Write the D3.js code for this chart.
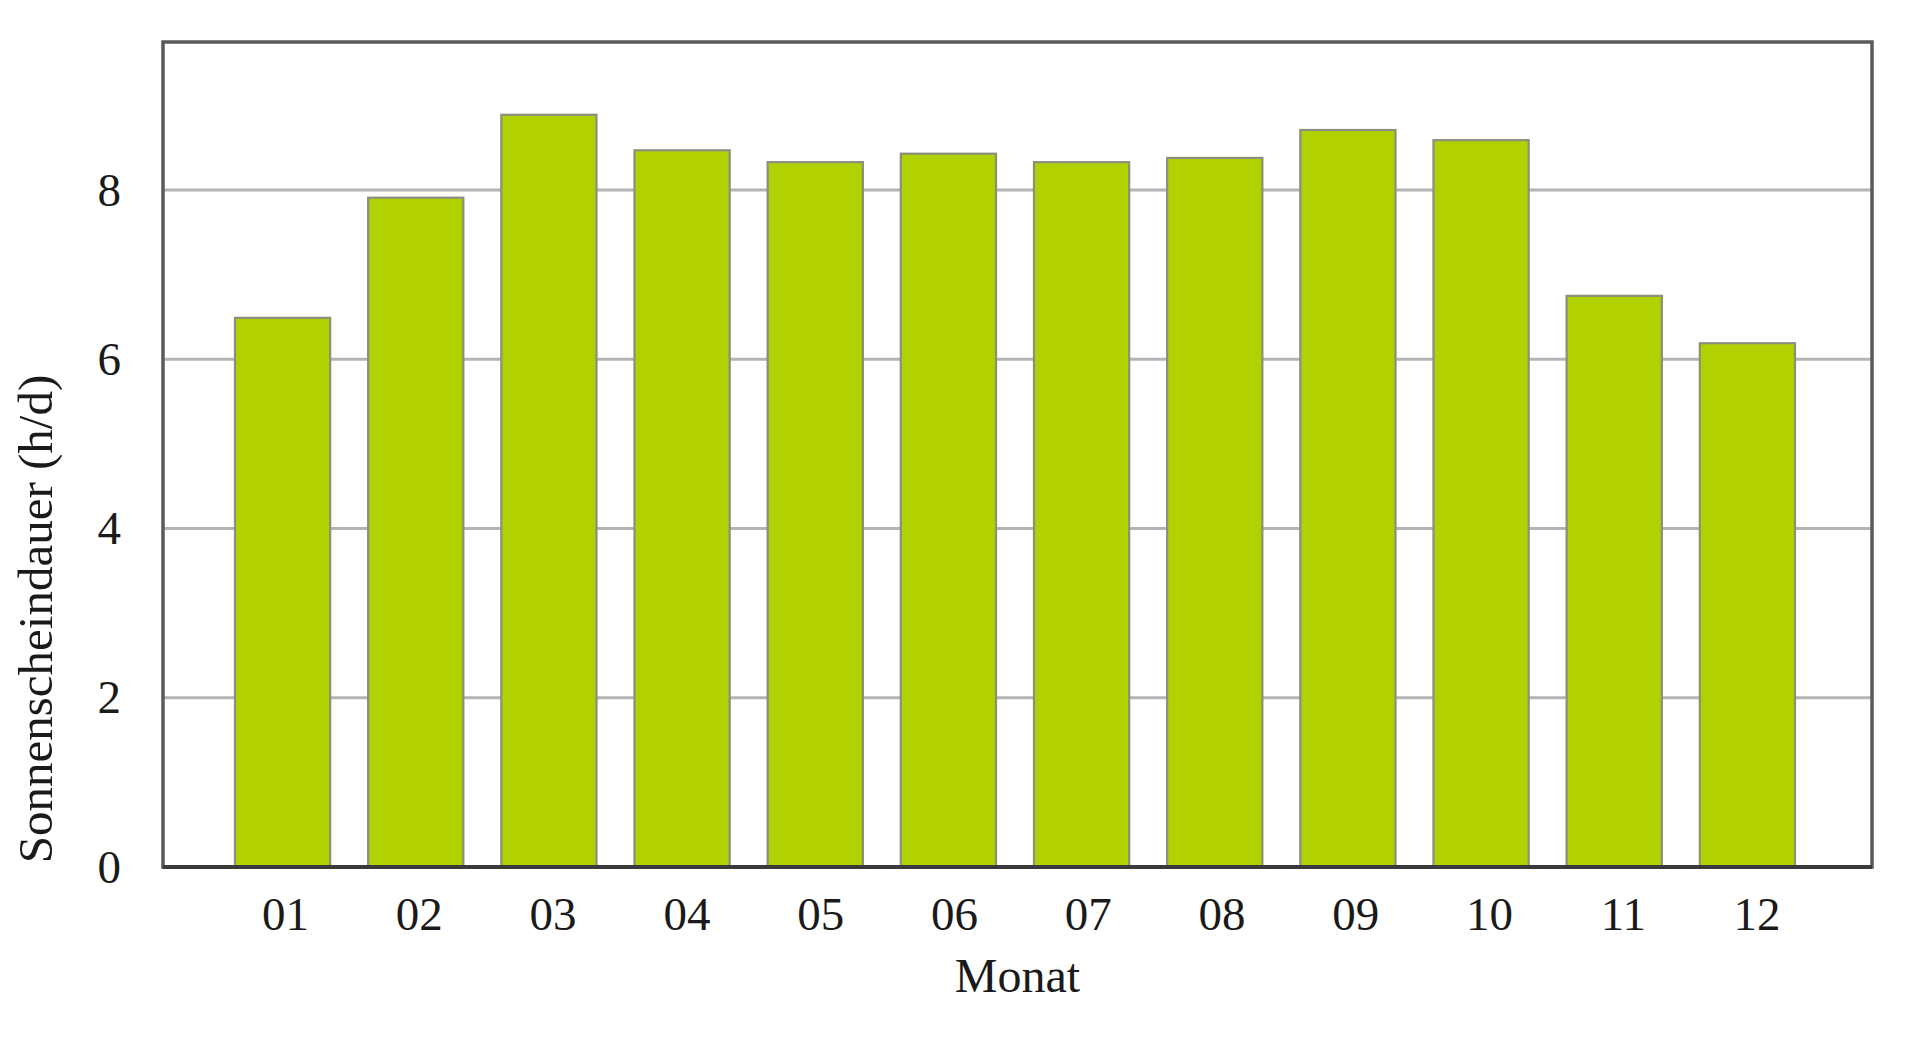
<!DOCTYPE html>
<html><head><meta charset="utf-8">
<script src="https://cdn.jsdelivr.net/npm/d3@7"></script>
<style>html,body{margin:0;padding:0;background:#fff;}svg{display:block;}</style>
</head><body>
<script>
const months = ["01","02","03","04","05","06","07","08","09","10","11","12"];
const sunHours = [6.49, 7.91, 8.89, 8.47, 8.33, 8.43, 8.33, 8.38, 8.71, 8.59, 6.75, 6.19];
const yTicks = [0, 2, 4, 6, 8];
const xTitle = "Monat";
const yTitle = "Sonnenscheindauer (h/d)";

const W = 1920, H = 1043;
const plot = {left: 163, right: 1872, top: 42, bottom: 867};
const svg = d3.select("body").append("svg").attr("width", W).attr("height", H);
const font = "'Liberation Serif', 'Times New Roman', serif";

const x = d3.scaleBand().domain(months).range([216, 1814]).paddingInner(0.285).paddingOuter(0.1425);
const y = d3.scaleLinear().domain([0, 9.75]).range([plot.bottom, plot.top]);

// gridlines
svg.append("g").selectAll("line").data(yTicks.filter(d => d > 0)).join("line")
  .attr("x1", plot.left).attr("x2", plot.right)
  .attr("y1", d => y(d)).attr("y2", d => y(d))
  .attr("stroke", "#b4b4b4").attr("stroke-width", 3);

// bars
svg.append("g").selectAll("rect").data(months).join("rect")
  .attr("x", d => x(d)).attr("width", x.bandwidth())
  .attr("y", (d, i) => y(sunHours[i])).attr("height", (d, i) => y(0) - y(sunHours[i]))
  .attr("fill", "#b2d100").attr("stroke", "#8b8f7e").attr("stroke-width", 2.2);

// frame
svg.append("rect").attr("x", plot.left).attr("y", plot.top)
  .attr("width", plot.right - plot.left).attr("height", plot.bottom - plot.top)
  .attr("fill", "none").attr("stroke", "#5a5a5a").attr("stroke-width", 3.5);
svg.append("line").attr("x1", plot.left).attr("x2", plot.right)
  .attr("y1", plot.bottom).attr("y2", plot.bottom)
  .attr("stroke", "#3a3a3a").attr("stroke-width", 4);

// y axis labels
const yAxis = d3.axisLeft(y).tickValues(yTicks).tickSize(0).tickPadding(42).tickFormat(d3.format("d"));
const gy = svg.append("g").attr("transform", `translate(${plot.left},0)`).call(yAxis);
gy.select(".domain").remove();
gy.selectAll("text").attr("font-family", font).attr("font-size", 47).attr("fill", "#1a1a1a");

// x axis labels
const xAxis = d3.axisBottom(x).tickSize(0).tickPadding(30);
const gx = svg.append("g").attr("transform", `translate(0,${plot.bottom})`).call(xAxis);
gx.select(".domain").remove();
gx.selectAll("text").attr("font-family", font).attr("font-size", 47).attr("fill", "#1a1a1a")
  .attr("dx", (d, i) => 3 + i * 0.6);

// titles
svg.append("text").attr("x", (plot.left + plot.right) / 2).attr("y", 992)
  .attr("text-anchor", "middle").attr("font-family", font).attr("font-size", 48).attr("fill", "#1a1a1a")
  .text(xTitle);
svg.append("text").attr("transform", "translate(52,619) rotate(-90)")
  .attr("text-anchor", "middle").attr("font-family", font).attr("font-size", 49).attr("fill", "#1a1a1a")
  .text(yTitle);
</script>
</body></html>
